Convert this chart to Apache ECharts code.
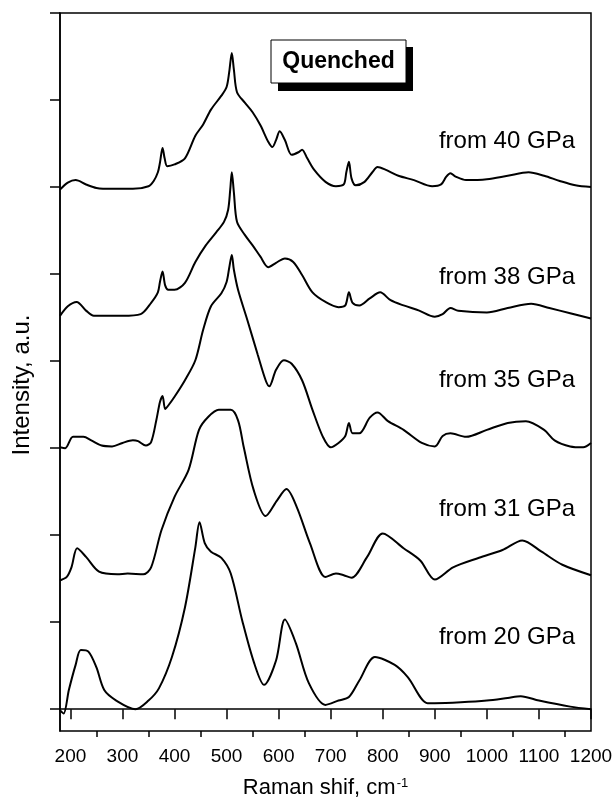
<!DOCTYPE html>
<html lang="en">
<head>
<meta charset="utf-8" />
<title>Quenched Raman spectra</title>
<style>
  html, body { margin: 0; padding: 0; background: #fff; }
  #chart { width: 616px; height: 808px; }
</style>
</head>
<body>
<div id="chart"></div>
<script src="https://cdn.jsdelivr.net/npm/echarts@6/dist/echarts.min.js"></script>
<script>
// Raman shift (cm-1) / intensity (a.u., spectra offset as plotted)
const from40 = [[180,597],[195,605],[210,608],[230,603],[250,599],[280,598],[320,598],[350,601],[360,607],[368,617],[372,628],[377,645],[381,633],[386,624],[400,626],[420,633],[440,659],[455,672],[470,689],[490,705],[500,715],[505,732],[510,754],[514,735],[520,709],[535,697],[550,686],[565,671],[580,652],[588,646],[595,654],[602,664],[612,654],[625,637],[638,640],[645,643],[655,633],[668,620],[690,606],[710,601],[725,603],[730,617],[735,629],[740,610],[748,602],[765,606],[780,617],[790,623],[805,620],[830,613],[860,608],[895,601],[912,603],[922,612],[930,616],[940,612],[960,608],[1000,609],[1040,613],[1080,617],[1110,613],[1140,607],[1170,602],[1200,600]];
const from38 = [[180,452],[195,463],[212,468],[230,458],[245,452],[300,452],[335,454],[355,467],[368,479],[372,491],[377,503],[382,487],[388,482],[400,482],[420,490],[440,514],[460,533],[480,548],[495,560],[503,574],[507,597],[510,617],[514,594],[520,560],[535,545],[550,533],[565,520],[580,508],[595,513],[612,518],[628,514],[645,499],[665,479],[690,468],[715,462],[728,464],[735,479],[742,467],[755,464],[775,472],[795,479],[815,470],[840,464],[870,458],[900,451],[915,454],[930,461],[945,458],[1000,456],[1040,461],[1085,466],[1120,461],[1160,455],[1200,449]];
const from35 = [[180,301],[190,300],[205,313],[225,313],[240,309],[260,303],[280,302],[300,306],[320,309],[330,308],[345,303],[355,307],[365,332],[372,353],[377,360],[382,345],[388,349],[400,359],[420,378],[440,401],[455,436],[470,463],[490,478],[500,491],[505,507],[510,522],[514,505],[522,482],[540,447],[560,407],[575,378],[582,371],[595,390],[610,401],[625,397],[645,378],[665,344],[685,313],[700,301],[715,306],[728,314],[735,329],[742,317],[755,317],[775,335],[790,341],[810,331],[840,321],[875,306],[900,302],[915,314],[930,317],[960,313],[1000,321],[1040,329],[1075,331],[1110,321],[1130,309],[1160,302],[1185,301],[1200,306]];
const from31 = [[180,148],[193,152],[202,163],[213,185],[230,175],[255,158],[290,155],[310,156],[340,155],[355,163],[375,206],[400,244],[427,275],[447,321],[465,336],[485,344],[508,344],[522,332],[533,301],[552,252],[575,222],[597,240],[615,253],[635,232],[660,191],[690,152],[710,156],[725,154],[740,151],[770,175],[800,202],[840,185],[872,171],[900,149],[935,163],[985,174],[1030,183],[1068,194],[1105,181],[1145,166],[1200,154]];
const from20 = [[180,-1],[187,-5],[197,22],[210,51],[220,68],[235,66],[250,48],[265,22],[288,10],[325,0],[350,10],[370,24],[395,60],[420,117],[440,186],[448,215],[458,191],[470,181],[490,174],[508,156],[530,102],[553,53],[572,28],[595,56],[612,103],[633,76],[658,30],[690,5],[715,10],[735,14],[755,33],[785,60],[823,51],[848,37],[886,7],[900,7],[950,8],[1000,10],[1040,13],[1065,15],[1100,10],[1160,3],[1200,0]];

const seriesNames = ['from 40 GPa', 'from 38 GPa', 'from 35 GPa', 'from 31 GPa', 'from 20 GPa'];
const seriesData = [from40, from38, from35, from31, from20];

// tick values
const xMajorTicks = [200, 300, 400, 500, 600, 700, 800, 900, 1000, 1100, 1200];
const xMinorTicks = [250, 350, 450, 550, 650, 750, 850, 950, 1050, 1150];
const yTicks = [0, 100, 200, 300, 400, 500, 600, 700, 800];

const FONT = '"Liberation Sans", Arial, Helvetica, sans-serif';

const chart = echarts.init(document.getElementById('chart'), null, { renderer: 'canvas' });

// label positions beside each curve (pixels, vertical centre)
const labelY = [142, 278, 381, 510, 638];
const labelGraphics = seriesNames.map(function (name, i) {
  return {
    type: 'text',
    right: 41,
    top: labelY[i] - 13,
    style: {
      text: name,
      font: '24px ' + FONT,
      fill: '#000'
    },
    z: 10
  };
});

const option = {
  animation: false,
  backgroundColor: '#fff',
  grid: {
    left: 60,
    right: 25,
    top: 13,
    bottom: 77,
    show: true,
    borderColor: '#000',
    borderWidth: 1.5,
    backgroundColor: 'transparent'
  },
  xAxis: [{
    type: 'value',
    min: 180,
    max: 1200,
    position: 'bottom',
    name: 'Raman shif, cm{sup|-1}',
    nameLocation: 'middle',
    nameGap: 46,
    nameTextStyle: {
      color: '#000',
      fontFamily: FONT,
      fontSize: 22,
      rich: {
        sup: { fontFamily: FONT, fontSize: 13, color: '#000', verticalAlign: 'top', padding: [0, 0, 9, 1] }
      }
    },
    axisLine: { lineStyle: { color: '#000', width: 1.5 } },
    axisTick: { show: true, length: 10, lineStyle: { color: '#000', width: 1.5 }, customValues: xMajorTicks },
    axisLabel: {
      color: '#000', fontFamily: FONT, fontSize: 19, margin: 16, customValues: xMajorTicks,
      formatter: function (v) { return String(v); }
    },
    splitLine: { show: false }
  }, {
    // minor ticks
    type: 'value',
    min: 180,
    max: 1200,
    position: 'bottom',
    axisLine: { show: false },
    axisTick: { show: true, length: 6, lineStyle: { color: '#000', width: 1.5 }, customValues: xMinorTicks },
    axisLabel: { show: false },
    splitLine: { show: false }
  }],
  yAxis: {
    type: 'value',
    min: -25,
    max: 800,
    name: 'Intensity, a.u.',
    nameLocation: 'middle',
    nameGap: 26,
    nameTextStyle: { color: '#000', fontFamily: FONT, fontSize: 24, padding: [0, 26, 0, 0] },
    axisLine: { show: true, lineStyle: { color: '#000', width: 1.5 } },
    axisTick: { show: true, length: 10, lineStyle: { color: '#000', width: 1.5 }, customValues: yTicks },
    axisLabel: { show: false },
    splitLine: { show: false }
  },
  graphic: [
    // "Quenched" box with drop shadow
    { type: 'rect', shape: { x: 278, y: 47, width: 135, height: 44 }, style: { fill: '#000' }, z: 10 },
    { type: 'rect', shape: { x: 271, y: 40, width: 135, height: 43 }, style: { fill: '#fff', stroke: '#000', lineWidth: 1 }, z: 11 },
    { type: 'text', x: 338.5, y: 61.5, style: { text: 'Quenched', font: 'bold 23px ' + FONT, fill: '#000', textAlign: 'center', textVerticalAlign: 'middle' }, z: 12 }
  ].concat(labelGraphics),
  series: seriesData.map(function (d, i) {
    return {
      name: seriesNames[i],
      type: 'line',
      data: d,
      xAxisIndex: 0,
      showSymbol: false,
      symbol: 'none',
      smooth: 0.3,
      lineStyle: { color: '#000', width: 2 }
    };
  })
};

chart.setOption(option);
</script>
</body>
</html>
